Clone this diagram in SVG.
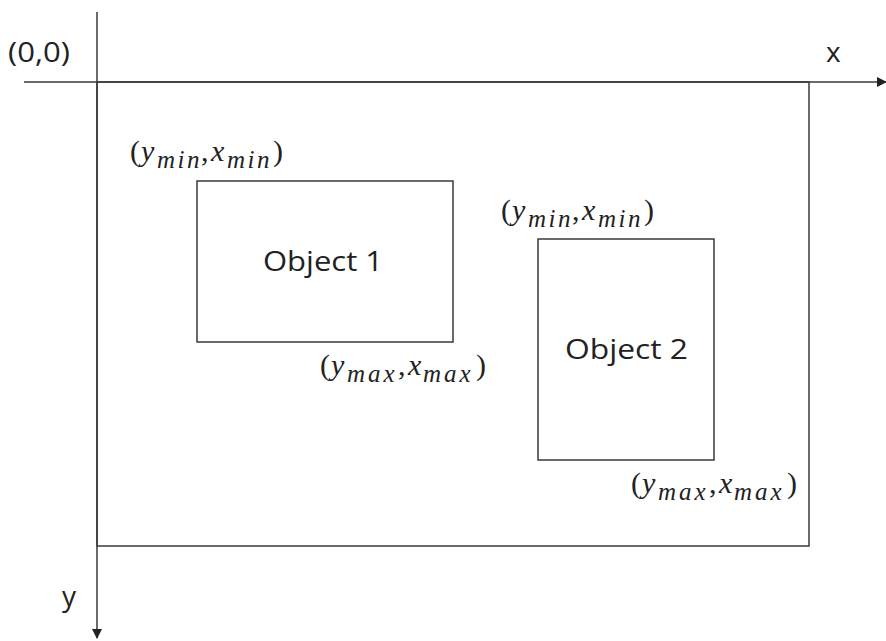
<svg xmlns="http://www.w3.org/2000/svg" width="886" height="641" viewBox="0 0 886 641">
<style>
.ln{stroke:#3a3a3a;stroke-width:1.5;fill:none}
.t{font-family:"Open Sans","Noto Sans","DejaVu Sans",sans-serif;fill:#222}
.m{font-family:"Liberation Serif","DejaVu Serif",serif;fill:#222;font-size:30px}
.i{font-style:italic}
.s{font-style:italic;font-size:25px}
.sn{letter-spacing:2.5px}
.sx{letter-spacing:3px}
</style>
<defs>
<marker id="ah" markerWidth="10" markerHeight="10" refX="9" refY="5" orient="auto" markerUnits="userSpaceOnUse"><path d="M0,0 L10,5 L0,10 Z" fill="#222"/></marker>
</defs>
<rect width="886" height="641" fill="#fff"/>
<g id="connectors">
<line class="ln" x1="24" y1="82" x2="886" y2="82" marker-end="url(#ah)"/>
<line class="ln" x1="97" y1="12" x2="97" y2="638" marker-end="url(#ah)"/>
</g>
<g id="frame"><rect class="ln" x="97" y="82" width="712" height="464"/></g>
<g id="origin"><text class="t" x="8" y="62" font-size="27" textLength="62" lengthAdjust="spacingAndGlyphs">(0,0)</text></g>
<g id="xlabel"><text class="t" x="826" y="62" font-size="28">x</text></g>
<g id="ylabel"><text class="t" x="62" y="606" font-size="28">y</text></g>
<g id="object1">
<rect class="ln" x="197" y="181" width="256" height="161"/>
<text class="t" x="263" y="271" font-size="28" textLength="120" lengthAdjust="spacingAndGlyphs">Object 1</text>
</g>
<g id="object2">
<rect class="ln" x="538" y="239" width="176" height="221"/>
<text class="t" x="565" y="359" font-size="28" textLength="123" lengthAdjust="spacingAndGlyphs">Object 2</text>
</g>
<g id="labels">
<g transform="translate(0,0)">
<text class="m" y="161"><tspan x="130">(</tspan><tspan class="i" x="141">y</tspan><tspan class="s sn" x="157" y="168">min</tspan><tspan x="201" y="161">,</tspan><tspan class="i" x="211">x</tspan><tspan class="s sn" x="227" y="168">min</tspan><tspan x="273" y="161">)</tspan></text>
</g>
<g transform="translate(371,59)">
<text class="m" y="161"><tspan x="130">(</tspan><tspan class="i" x="141">y</tspan><tspan class="s sn" x="157" y="168">min</tspan><tspan x="201" y="161">,</tspan><tspan class="i" x="211">x</tspan><tspan class="s sn" x="227" y="168">min</tspan><tspan x="273" y="161">)</tspan></text>
</g>
<g transform="translate(0,0)">
<text class="m" y="375"><tspan x="320">(</tspan><tspan class="i" x="331">y</tspan><tspan class="s sx" x="347" y="382">max</tspan><tspan x="398" y="375">,</tspan><tspan class="i" x="408">x</tspan><tspan class="s sx" x="423" y="382">max</tspan><tspan x="476" y="375">)</tspan></text>
</g>
<g transform="translate(311,118)">
<text class="m" y="375"><tspan x="320">(</tspan><tspan class="i" x="331">y</tspan><tspan class="s sx" x="347" y="382">max</tspan><tspan x="398" y="375">,</tspan><tspan class="i" x="408">x</tspan><tspan class="s sx" x="423" y="382">max</tspan><tspan x="476" y="375">)</tspan></text>
</g>
</g>
</svg>
